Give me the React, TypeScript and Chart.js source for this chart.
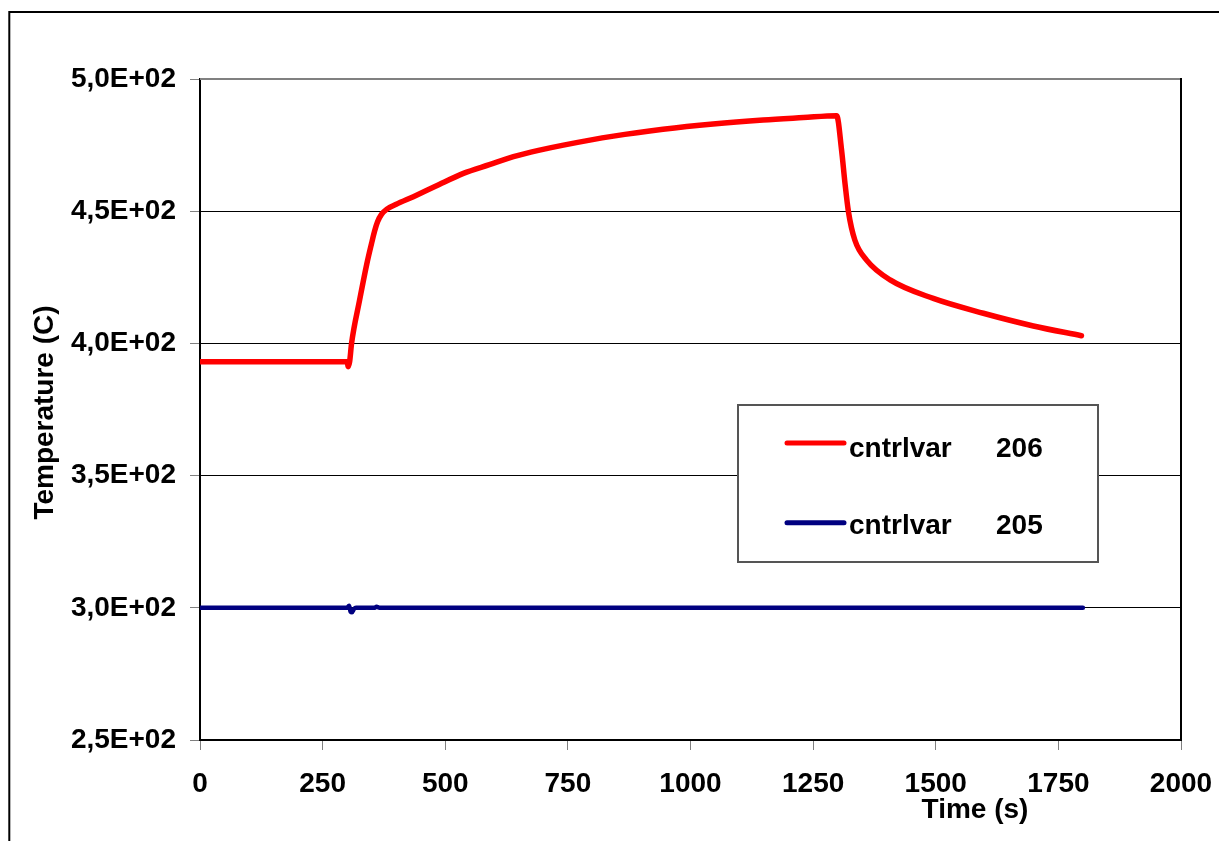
import { useEffect, useRef } from 'react';
import { Chart, registerables } from 'chart.js';

Chart.register(...registerables);

// ---- data ----
const redTime = [
  0, 300, 302, 305, 309, 325, 340, 350, 356, 362, 370, 381, 400, 435, 480, 537, 590, 639, 690, 741,
  843, 944, 1046, 1148, 1230, 1298, 1308, 1315, 1322, 1335, 1359, 1407, 1495, 1597, 1699, 1797,
];
const redTemp = [
  393.1, 393.1, 391.2, 393.0, 400.0, 416.0, 430.0, 438.0, 442.5, 446.0, 448.8, 450.8, 452.6, 455.5,
  459.4, 464.3, 467.6, 470.6, 473.0, 475.0, 478.4, 481.0, 483.0, 484.5, 485.4, 486.1, 473.1, 460.5,
  449.8, 439.1, 431.5, 424.0, 417.0, 411.4, 406.6, 402.9,
];
const blueTime = [0, 300, 304, 307, 310, 314, 318, 355, 360, 366, 1800];
const blueTemp = [300, 300, 300.8, 298.5, 298.3, 299.6, 300, 300, 300.4, 300, 300];

const seriesNames = ['cntrlvar', 'cntrlvar'];
const seriesIds = ['206', '205'];
const seriesColors = ['#FF0000', '#000080'];

const xTickValues = [0, 250, 500, 750, 1000, 1250, 1500, 1750, 2000];
const xTickLabels = ['0', '250', '500', '750', '1000', '1250', '1500', '1750', '2000'];
const yTickValues = [250, 300, 350, 400, 450, 500];
const yTickLabels = ['2,5E+02', '3,0E+02', '3,5E+02', '4,0E+02', '4,5E+02', '5,0E+02'];
const xTitle = 'Time (s)';
const yTitle = 'Temperature (C)';

const FONT = '"Liberation Sans", Arial, sans-serif';

const decorPlugin = {
  id: 'decor',
  beforeDraw(chart: any) {
    const ctx = chart.ctx as CanvasRenderingContext2D;
    ctx.save();
    ctx.fillStyle = '#ffffff';
    ctx.fillRect(0, 0, chart.width, chart.height);
    ctx.strokeStyle = '#000000';
    ctx.lineWidth = 2;
    ctx.beginPath();
    ctx.moveTo(9.3, chart.height + 5);
    ctx.lineTo(9.3, 12);
    ctx.lineTo(chart.width + 5, 12);
    ctx.stroke();
    ctx.restore();
  },
  afterDraw(chart: any) {
    const ctx = chart.ctx as CanvasRenderingContext2D;
    const a = chart.chartArea;
    ctx.save();
    // plot frame top and right
    ctx.lineWidth = 2;
    ctx.strokeStyle = '#808080';
    ctx.beginPath();
    ctx.moveTo(a.left, a.top);
    ctx.lineTo(a.right, a.top);
    ctx.stroke();
    ctx.strokeStyle = '#000000';
    ctx.beginPath();
    ctx.moveTo(a.right, a.top - 1);
    ctx.lineTo(a.right, a.bottom);
    ctx.stroke();

    // axis titles
    ctx.fillStyle = '#000000';
    ctx.font = `bold 28px ${FONT}`;
    ctx.textAlign = 'center';
    ctx.textBaseline = 'alphabetic';
    ctx.fillText(xTitle, a.right - 206, 818);
    ctx.save();
    ctx.translate(53, (a.top + a.bottom) / 2 + 3);
    ctx.rotate(-Math.PI / 2);
    ctx.fillText(yTitle, 0, 0);
    ctx.restore();

    // legend
    const bx = 738, by = 405, bw = 360, bh = 157;
    ctx.fillStyle = '#ffffff';
    ctx.fillRect(bx, by, bw, bh);
    ctx.strokeStyle = '#555555';
    ctx.lineWidth = 2;
    ctx.strokeRect(bx, by, bw, bh);
    const rows = [443, 522.7];
    const baselines = [457, 534];
    ctx.textAlign = 'left';
    ctx.font = `bold 28px ${FONT}`;
    for (let i = 0; i < seriesNames.length; i++) {
      ctx.strokeStyle = seriesColors[i];
      ctx.lineWidth = 5;
      ctx.lineCap = 'round';
      ctx.beginPath();
      ctx.moveTo(787, rows[i]);
      ctx.lineTo(844, rows[i]);
      ctx.stroke();
      ctx.fillStyle = '#000000';
      ctx.fillText(seriesNames[i], 849, baselines[i]);
      ctx.fillText(seriesIds[i], 996, baselines[i]);
    }
    ctx.restore();
  },
};

export default function App() {
  const ref = useRef<HTMLCanvasElement | null>(null);
  useEffect(() => {
    if (!ref.current) return;
    const red = redTime.map((t, i) => ({ x: t, y: redTemp[i] }));
    const blue = blueTime.map((t, i) => ({ x: t, y: blueTemp[i] }));
    const chart = new Chart(ref.current, {
      type: 'line',
      data: {
        datasets: [
          {
            label: `${seriesNames[0]} ${seriesIds[0]}`,
            data: red,
            borderColor: seriesColors[0],
            backgroundColor: seriesColors[0],
            borderWidth: 5.5,
            pointRadius: 0,
            cubicInterpolationMode: 'monotone',
            borderCapStyle: 'round',
            borderJoinStyle: 'round',
          },
          {
            label: `${seriesNames[1]} ${seriesIds[1]}`,
            data: blue,
            borderColor: seriesColors[1],
            backgroundColor: seriesColors[1],
            borderWidth: 4.5,
            pointRadius: 0,
            cubicInterpolationMode: 'monotone',
            borderCapStyle: 'round',
            borderJoinStyle: 'round',
          },
        ],
      },
      options: {
        responsive: false,
        animation: false,
        devicePixelRatio: 1,
        layout: { padding: { left: 0, top: 79, right: 38, bottom: 0 } },
        plugins: { legend: { display: false }, tooltip: { enabled: false } },
        scales: {
          x: {
            type: 'linear',
            min: xTickValues[0],
            max: xTickValues[xTickValues.length - 1],
            afterBuildTicks: (s: any) => {
              s.ticks = xTickValues.map((v) => ({ value: v }));
            },
            ticks: {
              autoSkip: false,
              maxRotation: 0,
              padding: 17,
              color: '#000000',
              font: { family: FONT, weight: 'bold', size: 28 },
              callback: (v: any) => xTickLabels[xTickValues.indexOf(Number(v))] ?? '',
            },
            grid: {
              display: true,
              drawOnChartArea: false,
              drawTicks: true,
              tickLength: 10,
              tickColor: '#808080',
              tickWidth: 1,
            },
            border: { display: true, color: '#000000', width: 2 },
            afterFit: (s: any) => {
              s.height = 101;
              s.paddingLeft = 0;
              s.paddingRight = 0;
            },
          },
          y: {
            type: 'linear',
            min: yTickValues[0],
            max: yTickValues[yTickValues.length - 1],
            afterBuildTicks: (s: any) => {
              s.ticks = yTickValues.map((v) => ({ value: v }));
            },
            ticks: {
              padding: 14,
              color: '#000000',
              font: { family: FONT, weight: 'bold', size: 28 },
              callback: (v: any) => yTickLabels[yTickValues.indexOf(Number(v))] ?? '',
            },
            grid: {
              color: (c: any) => (c.tick && c.tick.value === 500 ? '#808080' : '#000000'),
              lineWidth: 1,
              drawTicks: true,
              tickLength: 10,
              tickColor: '#808080',
              tickWidth: 1,
            },
            border: { display: true, color: '#000000', width: 2 },
            afterFit: (s: any) => {
              s.width = 200;
              s.paddingTop = 0;
              s.paddingBottom = 0;
            },
          },
        },
      },
      plugins: [decorPlugin],
    } as any);
    return () => chart.destroy();
  }, []);

  return (
    <div style={{ position: 'absolute', left: 0, top: 0, width: 1219, height: 841, background: '#fff' }}>
      <canvas ref={ref} width={1219} height={841} style={{ display: 'block', width: 1219, height: 841 }} />
    </div>
  );
}
